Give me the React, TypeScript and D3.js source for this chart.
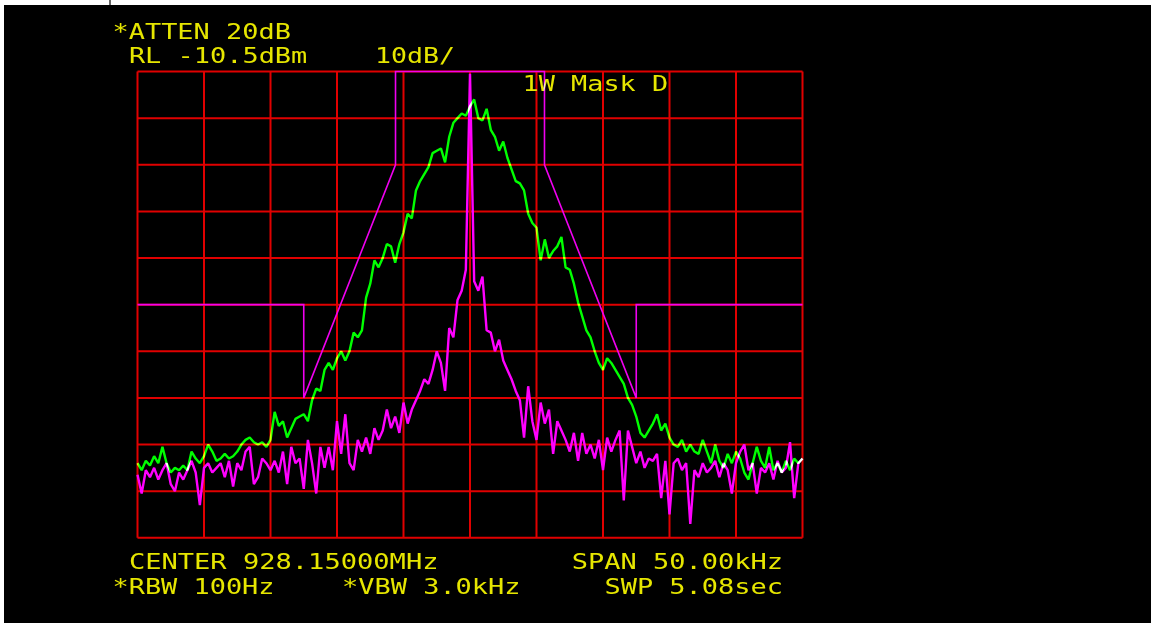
import React from 'react';
import * as d3 from 'd3';

const W = 1151;
const H = 623;

// sweep: 161 points across a 50 kHz span, centre 928.15 MHz
const spanKHz = 50;
const sweepStepKHz = 0.3125;

// trace A (green), dBm
const greenTrace = [
  -94.5, -96, -94, -95, -93, -94.5, -91, -94.5, -96.5, -95.5,
  -96, -95, -96, -92, -93.5, -94.5, -93, -90.5, -92, -94,
  -93.5, -92.5, -93.5, -93, -92, -90.5, -89.5, -89, -90, -90.5,
  -90, -91, -89.5, -83.5, -86.5, -85.5, -89, -87, -85, -84.5,
  -84, -85.5, -81, -78.5, -79, -74.5, -73, -74.5, -72, -70.5,
  -72.5, -70.5, -66.5, -67.5, -66, -59, -56, -51, -52.5, -50.5,
  -47.5, -48, -51.5, -47.5, -45, -41, -42, -36, -34, -32.5,
  -31, -28, -27.5, -27, -30, -24.5, -21.5, -20.5, -19.5, -20,
  -18, -16.5, -20.5, -21, -18.5, -23, -24.5, -27.5, -25.5, -29,
  -31.5, -34, -34.5, -36, -41, -43, -44, -51, -46.5, -50.5,
  -49, -48, -46, -52.5, -53, -56, -60, -63, -66, -67.5,
  -70.5, -73, -74.5, -72, -73, -74.5, -76, -77.5, -80.5, -82,
  -84.5, -88, -89, -87.5, -86, -84, -87.5, -86, -89, -90.5,
  -91, -89.5, -92, -90.5, -92, -92.5, -89.5, -92, -94.5, -90.5,
  -94, -95.5, -92.5, -94.5, -92, -93.5, -96.5, -98, -94.5, -91,
  -94, -95.5, -91, -96, -94.5, -96.5, -94, -96, -93.5, -94.5,
  -93.5,
];

// trace B (magenta), dBm
const magentaTrace = [
  -97, -101, -96, -97.5, -95.5, -98, -96, -94.5, -99, -100.5,
  -96.5, -98, -96, -94, -96.5, -103.5, -95.5, -94.5, -96.5, -95.5,
  -94.5, -97.5, -94, -99.5, -94.5, -96, -92, -91, -99, -97.5,
  -93.5, -94.5, -96, -94, -96.5, -92, -99, -91, -94.5, -93.5,
  -100, -89.5, -94.5, -101, -91, -95.5, -91, -96, -85.5, -92.5,
  -84, -94.5, -96, -89.5, -92, -89, -92.5, -87, -89.5, -87.5,
  -83, -87, -84.5, -88, -81.5, -86, -83, -81, -79, -76.5,
  -77.5, -74.5, -70.5, -73, -79, -65.5, -67.5, -59.5, -57.5, -53,
  -11, -55.5, -57.5, -54.5, -66, -66.5, -70.5, -68, -72.5, -74.5,
  -76.5, -79, -81, -89, -78, -85.5, -89.5, -81.5, -86, -83,
  -92.5, -85.5, -87.5, -89.5, -92, -88, -94, -88, -92.5, -90.5,
  -93.5, -89.5, -96, -89, -92, -89.5, -87.5, -102.5, -87.5, -91,
  -94.5, -92, -95.5, -93.5, -94, -92.5, -102, -94, -105.5, -94.5,
  -93.5, -96, -94.5, -107.5, -96, -97.5, -94.5, -96.5, -95.5, -94,
  -97.5, -94.5, -96, -101, -94.5, -92, -90.5, -96, -94.5, -101,
  -95.5, -96.5, -94.5, -98, -94, -96.5, -95.5, -90, -102, -94.5,
  -93.5,
];

// limit line "1W Mask D"
const maskFreq = [-25, -12.5, -12.5, -5.6, -5.6, 5.6, 5.6, 12.5, 12.5, 25];
const maskLevel = [-60.5, -60.5, -80.5, -30.5, -10.5, -10.5, -30.5, -80.5, -60.5, -60.5];

const refLevel = -10.5;
const dbPerDiv = 10;
const divisions = 10;

const headerLines = ['*ATTEN 20dB', 'RL -10.5dBm', '10dB/'];
const maskName = '1W Mask D';
const footerLines = ['CENTER 928.15000MHz', 'SPAN 50.00kHz', '*RBW 100Hz', '*VBW 3.0kHz', 'SWP 5.08sec'];

const CHAR_W = 16.4;
const COL0 = 112.5;
const YELLOW = '#e6e600';

const Label: React.FC<{col: number, y: number, text: string}> = ({col, y, text}) => (
  <text x={COL0 + col * CHAR_W} y={y}
        textLength={text.length * CHAR_W - 2} lengthAdjust="spacingAndGlyphs"
        fill={YELLOW} fontFamily="'DejaVu Sans Mono', 'Liberation Mono', monospace"
        fontSize={22} style={{mixBlendMode: 'lighten'}}>{text}</text>
);

export default function App() {
  const x = d3.scaleLinear().domain([-spanKHz / 2, spanKHz / 2]).range([137.5, 802.5]);
  const y = d3.scaleLinear().domain([refLevel - dbPerDiv * divisions, refLevel]).range([537.8, 71.5]);

  const freqAt = (i: number) => -spanKHz / 2 + i * sweepStepKHz;
  const trace = d3.line<number>()
    .x((_, i) => x(freqAt(i)))
    .y((d) => y(d));

  const mask = d3.line<number>()
    .x((_, i) => x(maskFreq[i]))
    .y((d) => y(d));

  const vLines = d3.range(0, divisions + 1).map(i => -spanKHz / 2 + i * spanKHz / divisions);
  const hLines = d3.range(0, divisions + 1).map(i => refLevel - i * dbPerDiv);

  return (
    <svg width={W} height={H} style={{position: 'absolute', left: 0, top: 0, display: 'block'}}>
      <rect x={0} y={0} width={W} height={H} fill="#fff"/>
      <line x1={110} x2={110} y1={0} y2={5} stroke="#333" strokeWidth={1.5}/>
      <rect x={4} y={5} width={W - 4} height={H - 5} fill="#000"/>

      <g stroke="#e00000" strokeWidth={2}>
        {vLines.map(v => <line key={'v' + v} x1={x(v)} x2={x(v)} y1={y(refLevel)} y2={y(refLevel - dbPerDiv * divisions)}/>)}
        {hLines.map(h => <line key={'h' + h} x1={x(-spanKHz / 2)} x2={x(spanKHz / 2)} y1={y(h)} y2={y(h)}/>)}
      </g>

      <path d={mask(maskLevel) ?? ''} fill="none" stroke="#f000f0" strokeWidth={1.6}
            style={{mixBlendMode: 'lighten'}}/>
      <path d={trace(magentaTrace) ?? ''} fill="none" stroke="#ff00ff" strokeWidth={2.4}
            strokeLinejoin="bevel" style={{mixBlendMode: 'lighten'}}/>
      <path d={trace(greenTrace) ?? ''} fill="none" stroke="#00ff00" strokeWidth={2.4}
            strokeLinejoin="bevel" style={{mixBlendMode: 'lighten'}}/>

      <Label col={0} y={39} text={headerLines[0]}/>
      <Label col={1} y={63} text={headerLines[1]}/>
      <Label col={16} y={63} text={headerLines[2]}/>
      <Label col={25} y={91} text={maskName}/>
      <Label col={1} y={569} text={footerLines[0]}/>
      <Label col={28} y={569} text={footerLines[1]}/>
      <Label col={0} y={594} text={footerLines[2]}/>
      <Label col={14} y={594} text={footerLines[3]}/>
      <Label col={30} y={594} text={footerLines[4]}/>
    </svg>
  );
}
